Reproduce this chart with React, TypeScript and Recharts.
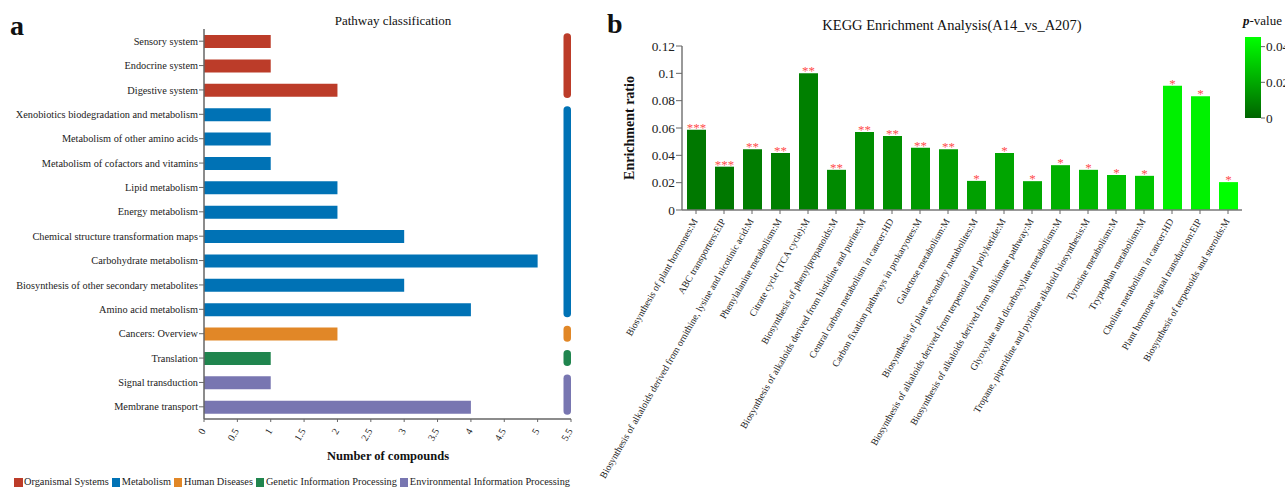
import React from "react";
import { BarChart, Bar, XAxis, YAxis, Cell, LabelList, ReferenceArea } from "recharts";

const FONT = '"Liberation Serif", "Times New Roman", serif';

// ---- panel a: pathway classification
const pathways = [
  "Sensory system",
  "Endocrine system",
  "Digestive system",
  "Xenobiotics biodegradation and metabolism",
  "Metabolism of other amino acids",
  "Metabolism of cofactors and vitamins",
  "Lipid metabolism",
  "Energy metabolism",
  "Chemical structure transformation maps",
  "Carbohydrate metabolism",
  "Biosynthesis of other secondary metabolites",
  "Amino acid metabolism",
  "Cancers: Overview",
  "Translation",
  "Signal transduction",
  "Membrane transport",
];
const compounds = [1, 1, 2, 1, 1, 1, 2, 2, 3, 5, 3, 4, 2, 1, 1, 4];
const pathwayGroup = [0, 0, 0, 1, 1, 1, 1, 1, 1, 1, 1, 1, 2, 3, 4, 4];
const groupNames = [
  "Organismal Systems",
  "Metabolism",
  "Human Diseases",
  "Genetic Information Processing",
  "Environmental Information Processing",
];
const groupColors = ["#BC3C29", "#0072B5", "#E18727", "#20854E", "#7876B1"];
const compoundTicks = [0, 0.5, 1, 1.5, 2, 2.5, 3, 3.5, 4, 4.5, 5, 5.5];

// ---- panel b: KEGG enrichment
const keggTerms = [
  "Biosynthesis of plant hormones:M",
  "ABC transporters:EIP",
  "Biosynthesis of alkaloids derived from ornithine, lysine and nicotinic acid:M",
  "Phenylalanine metabolism:M",
  "Citrate cycle (TCA cycle):M",
  "Biosynthesis of phenylpropanoids:M",
  "Biosynthesis of alkaloids derived from histidine and purine:M",
  "Central carbon metabolism in cancer:HD",
  "Carbon fixation pathways in prokaryotes:M",
  "Galactose metabolism:M",
  "Biosynthesis of plant secondary metabolites:M",
  "Biosynthesis of alkaloids derived from terpenoid and polyketide:M",
  "Biosynthesis of alkaloids derived from shikimate pathway:M",
  "Glyoxylate and dicarboxylate metabolism:M",
  "Tropane, piperidine and pyridine alkaloid biosynthesis:M",
  "Tyrosine metabolism:M",
  "Tryptophan metabolism:M",
  "Choline metabolism in cancer:HD",
  "Plant hormone signal transduction:EIP",
  "Biosynthesis of terpenoids and steroids:M",
];
const enrichRatio = [
  0.0588, 0.0317, 0.0444, 0.0417, 0.1, 0.0294, 0.0571, 0.0541, 0.0455, 0.0444,
  0.0213, 0.0417, 0.0211, 0.0328, 0.0294, 0.0256, 0.025, 0.0909, 0.0833, 0.0204,
];
const pValues = [
  0.0059, 0.0059, 0.0073, 0.0079, 0.0082, 0.0111, 0.0123, 0.0129, 0.0155, 0.0158,
  0.0176, 0.019, 0.0199, 0.0223, 0.024, 0.0269, 0.0284, 0.041, 0.0416, 0.0454,
];
const stars = [
  "***", "***", "**", "**", "**", "**", "**", "**", "**", "**",
  "*", "*", "*", "*", "*", "*", "*", "*", "*", "*",
];
const ratioTicks = [0, 0.02, 0.04, 0.06, 0.08, 0.1, 0.12];
const pTicks = [0, 0.01, 0.02, 0.03, 0.04];
const pMax = 0.0454;

const pathwayData = pathways.map((name, i) => ({ name, value: compounds[i], group: pathwayGroup[i] }));
const keggData = keggTerms.map((name, i) => ({ name, ratio: enrichRatio[i], p: pValues[i], stars: stars[i] }));

const groupSpans = groupNames.map((_, g) => {
  const idx = pathwayGroup.map((v, i) => (v === g ? i : -1)).filter((i) => i >= 0);
  return { first: pathways[idx[0]], last: pathways[idx[idx.length - 1]], color: groupColors[g] };
});

function pColor(p: number) {
  const t = Math.min(p / pMax, 1);
  const g = Math.round(100 + 155 * t);
  return `rgb(0,${g},0)`;
}

function CompoundTick(props: any) {
  const { x, y, payload } = props;
  const px = x + 2;
  const py = y + 7;
  return (
    <text x={px} y={py} transform={`rotate(-60 ${px} ${py})`} textAnchor="end" fontSize={10} fontFamily={FONT} fill="#222">
      {payload.value}
    </text>
  );
}

function PathwayTick(props: any) {
  const { x, y, payload } = props;
  return (
    <text x={x} y={y} dy={3.6} textAnchor="end" fontSize={10.3} fontFamily={FONT} fill="#222">
      {payload.value}
    </text>
  );
}

function TermTick(props: any) {
  const { x, y, payload } = props;
  const px = x + 2;
  const py = y + 5;
  return (
    <text x={px} y={py} transform={`rotate(-60 ${px} ${py})`} textAnchor="end" fontSize={9.7} fontFamily={FONT} fill="#222">
      {payload.value}
    </text>
  );
}

function GroupLine(props: any) {
  const { x, y, width, height, fill } = props;
  const w = 7.5;
  return <rect x={x + width - w} y={y + 4.2} width={w} height={height - 8.4} rx={w / 2} fill={fill} />;
}

const txt = (left: number, top: number, size: number, extra: React.CSSProperties = {}): React.CSSProperties => ({
  position: "absolute",
  left,
  top,
  fontSize: size,
  lineHeight: `${size}px`,
  fontFamily: FONT,
  color: "#111",
  whiteSpace: "nowrap",
  ...extra,
});

export default function App() {
  return (
    <div
      style={{
        position: "absolute",
        left: 0,
        top: 0,
        width: 1285,
        height: 487,
        overflow: "hidden",
        background: "#fff",
        fontFamily: FONT,
      }}
    >
      {/* panel a */}
      <div style={{ position: "absolute", left: 0, top: 0 }}>
        <BarChart
          width={600}
          height={487}
          layout="vertical"
          data={pathwayData}
          margin={{ top: 29, right: 29, bottom: 0, left: 0 }}
          barSize={13}
        >
          <XAxis
            type="number"
            domain={[0, 5.5]}
            ticks={compoundTicks}
            interval={0}
            height={68}
            axisLine={{ stroke: "#666", strokeWidth: 1.5 }}
            tickLine={{ stroke: "#666" }}
            tickSize={3}
            tick={CompoundTick}
          />
          <YAxis
            type="category"
            dataKey="name"
            width={204}
            interval={0}
            axisLine={{ stroke: "#666", strokeWidth: 1.5 }}
            tickLine={{ stroke: "#666" }}
            tickSize={5}
            tickMargin={1}
            tick={PathwayTick}
          />
          <Bar dataKey="value" isAnimationActive={false}>
            {pathwayData.map((d, i) => (
              <Cell key={i} fill={groupColors[d.group]} />
            ))}
          </Bar>
          {groupSpans.map((g, i) => (
            <ReferenceArea
              key={i}
              x1={5.5}
              x2={5.5}
              y1={g.first}
              y2={g.last}
              ifOverflow="visible"
              fill={g.color}
              shape={GroupLine}
            />
          ))}
        </BarChart>
      </div>

      <div style={txt(10, 11.5, 28, { fontWeight: "bold" })}>a</div>
      <div style={txt(393, 14.1, 13, { transform: "translateX(-50%)" })}>Pathway classification</div>
      <div style={txt(388, 449.5, 12.5, { fontWeight: "bold", transform: "translateX(-50%)" })}>Number of compounds</div>
      <div style={{ ...txt(14, 477.4, 10.3), display: "flex", alignItems: "center", color: "#222" }}>
        {groupNames.map((n, i) => (
          <span key={n} style={{ display: "flex", alignItems: "center", marginRight: 3 }}>
            <span style={{ width: 8.5, height: 8.5, background: groupColors[i], marginRight: 1.5, display: "inline-block" }} />
            {n}
          </span>
        ))}
      </div>

      {/* panel b */}
      <div style={{ position: "absolute", left: 560, top: 0 }}>
        <BarChart
          width={725}
          height={487}
          data={keggData}
          margin={{ top: 46, right: 43, bottom: 0, left: 40 }}
          barSize={19}
        >
          <XAxis
            dataKey="name"
            interval={0}
            height={277}
            axisLine={{ stroke: "#777", strokeWidth: 1.5 }}
            tickLine={{ stroke: "#666" }}
            tickSize={4}
            tick={TermTick}
          />
          <YAxis
            domain={[0, 0.12]}
            ticks={ratioTicks}
            width={82}
            axisLine={{ stroke: "#777", strokeWidth: 1.5 }}
            tickLine={{ stroke: "#666" }}
            tickSize={6}
            tickMargin={1}
            tick={{ fontSize: 13.3, fill: "#222", fontFamily: FONT }}
            label={{
              value: "Enrichment ratio",
              angle: -90,
              position: "insideLeft",
              offset: 29,
              style: { textAnchor: "middle", fontSize: 14, fontWeight: "bold", fill: "#111", fontFamily: FONT },
            }}
          />
          <Bar dataKey="ratio" isAnimationActive={false}>
            {keggData.map((d, i) => (
              <Cell key={i} fill={pColor(d.p)} />
            ))}
            <LabelList dataKey="stars" position="top" offset={-2} fill="#ff4d4d" fontSize={13} fontFamily={FONT} />
          </Bar>
        </BarChart>
      </div>

      <div style={txt(607, 10, 28, { fontWeight: "bold" })}>b</div>
      <div style={txt(952, 17.9, 14.5, { transform: "translateX(-50%)" })}>KEGG Enrichment Analysis(A14_vs_A207)</div>

      {/* p-value colour bar */}
      <div style={txt(1243, 13.5, 13)}>
        <span style={{ fontWeight: "bold", fontStyle: "italic" }}>p</span>-value
      </div>
      <div style={{ position: "absolute", left: 1240, top: 0 }}>
        <BarChart
          width={100}
          height={140}
          data={[{ name: "p", value: pMax }]}
          margin={{ top: 37, right: 19, bottom: 22, left: 5 }}
          barCategoryGap={0}
        >
          <defs>
            <linearGradient id="pgrad" x1="0" y1="0" x2="0" y2="1">
              <stop offset="0%" stopColor={pColor(pMax)} />
              <stop offset="100%" stopColor={pColor(0)} />
            </linearGradient>
          </defs>
          <XAxis dataKey="name" hide />
          <YAxis
            orientation="right"
            domain={[0, pMax]}
            ticks={pTicks}
            width={60}
            axisLine={false}
            tickLine={{ stroke: "#666" }}
            tickSize={4}
            tickMargin={1}
            tick={{ fontSize: 13.3, fill: "#222", fontFamily: FONT, textAnchor: "start" }}
          />
          <Bar dataKey="value" fill="url(#pgrad)" isAnimationActive={false} />
        </BarChart>
      </div>
    </div>
  );
}
